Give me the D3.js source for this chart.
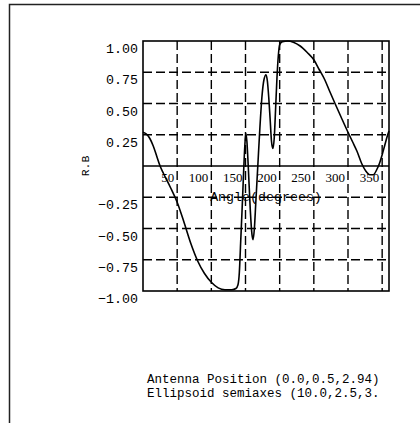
<!DOCTYPE html>
<html>
<head>
<meta charset="utf-8">
<script src="https://cdn.jsdelivr.net/npm/d3@7"></script>
<style>
  html, body { margin: 0; padding: 0; background: #fff; }
  svg { display: block; }
</style>
</head>
<body>
<svg id="chart" width="420" height="423"></svg>
<script>
// ---- data ----
const angles = [0,5,10,15,20,25,30,40,50,60,70,80,90,100,110,120,130,136,139,141,143,145,147,149,150.5,152,154,157,159.5,161,163,165,168,171,174,177,180,182,184,186,188,190,192,194,196,198,200,204,212,220,230,240,250,258,266,273,281,290,300,307,313,320,326,332,337,342,346,350,354,357,360];
const rb = [0.27,0.255,0.22,0.16,0.08,0.0,-0.06,-0.17,-0.29,-0.45,-0.62,-0.76,-0.86,-0.93,-0.975,-0.99,-0.99,-0.98,-0.95,-0.85,-0.6,-0.35,-0.08,0.16,0.26,0.2,0.0,-0.35,-0.55,-0.59,-0.5,-0.3,0.0,0.3,0.55,0.69,0.73,0.68,0.55,0.38,0.2,0.14,0.22,0.45,0.7,0.88,0.97,0.995,1.0,0.99,0.96,0.91,0.85,0.77,0.69,0.6,0.5,0.39,0.27,0.19,0.12,0.02,-0.04,-0.07,-0.07,-0.03,0.02,0.09,0.17,0.23,0.28];
const xTicks = [50,100,150,200,250,300,350];
const yTicks = [1.00,0.75,0.50,0.25,-0.25,-0.50,-0.75,-1.00];
const yGrid = [0.75,0.50,0.25,-0.25,-0.50,-0.75];
const xLabel = "Angle(degrees)";
const yLabel = "R.B";
const notes = ["Antenna Position (0.0,0.5,2.94)", "Ellipsoid semiaxes (10.0,2.5,3."];

// ---- layout ----
const svg = d3.select("#chart");
const L = 143, R = 389, T = 41, B = 291;
const x = d3.scaleLinear().domain([0, 360]).range([L, R]);
const y = d3.scaleLinear().domain([-1, 1]).range([B, T]);
const mono = "'Liberation Mono', 'DejaVu Sans Mono', monospace";
const serif = "'Liberation Serif', 'DejaVu Serif', serif";

// outer frame
svg.append("path")
  .attr("d", `M9.5,423 L9.5,4.5 L420,4.5`)
  .attr("fill", "none").attr("stroke", "#222").attr("stroke-width", 1.5);

// dashed grid
const g = svg.append("g");
g.selectAll("line.vg").data(xTicks).join("line")
  .attr("x1", d => x(d)).attr("x2", d => x(d))
  .attr("y1", T).attr("y2", B)
  .attr("stroke", "#000").attr("stroke-width", 1.4)
  .attr("stroke-dasharray", "9,4");
g.selectAll("line.hg").data(yGrid).join("line")
  .attr("x1", L).attr("x2", R)
  .attr("y1", d => y(d)).attr("y2", d => y(d))
  .attr("stroke", "#000").attr("stroke-width", 1.4)
  .attr("stroke-dasharray", "9,4");

// zero line
svg.append("line")
  .attr("x1", L).attr("x2", R).attr("y1", y(0)).attr("y2", y(0))
  .attr("stroke", "#000").attr("stroke-width", 1.4);

// plot border
svg.append("rect")
  .attr("x", L).attr("y", T).attr("width", R - L).attr("height", B - T)
  .attr("fill", "none").attr("stroke", "#000").attr("stroke-width", 1.6);

// y tick labels
svg.selectAll("text.yt").data(yTicks).join("text")
  .attr("x", L - 5).attr("y", d => y(d) + 12)
  .attr("text-anchor", "end")
  .attr("font-family", mono).attr("font-size", "13.3px").attr("fill", "#000")
  .text(d => d3.format(".2f")(d));

// x tick labels (along zero line)
svg.selectAll("text.xt").data(xTicks).join("text")
  .attr("x", d => x(d) - 3).attr("y", y(0) + 16)
  .attr("text-anchor", "end")
  .attr("font-family", serif).attr("font-size", "13px").attr("fill", "#000")
  .text(d => d);

// axis titles
svg.append("text")
  .attr("x", (L + R) / 2).attr("y", y(-0.25) + 4)
  .attr("text-anchor", "middle")
  .attr("font-family", mono).attr("font-size", "13.3px").attr("fill", "#000")
  .text(xLabel);
svg.append("text")
  .attr("transform", `translate(89,${y(0)}) rotate(-90)`)
  .attr("text-anchor", "middle")
  .attr("font-family", mono).attr("font-size", "11.5px").attr("fill", "#000")
  .text(yLabel);

// curve
const pts = angles.map((a, i) => [a, rb[i]]);
svg.append("path")
  .datum(pts)
  .attr("d", d3.line().x(d => x(d[0])).y(d => y(d[1])).curve(d3.curveMonotoneX))
  .attr("fill", "none").attr("stroke", "#000").attr("stroke-width", 1.6);

// notes
svg.selectAll("text.note").data(notes).join("text")
  .attr("x", 147).attr("y", (d, i) => 383 + i * 13.5)
  .attr("font-family", mono).attr("font-size", "12.5px").attr("fill", "#000")
  .text(d => d);
</script>
</body>
</html>
